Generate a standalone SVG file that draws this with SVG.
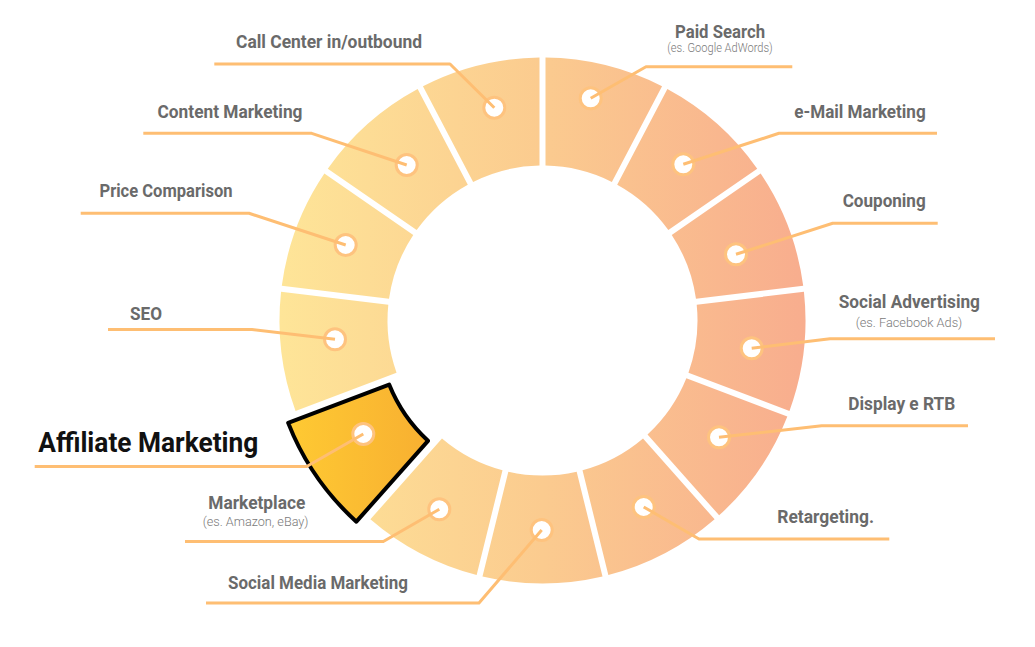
<svg xmlns="http://www.w3.org/2000/svg" width="1035" height="647" viewBox="0 0 1035 647">
<defs>
<linearGradient id="ringGrad" gradientUnits="userSpaceOnUse" x1="279" y1="0" x2="806" y2="0">
<stop offset="0" stop-color="#FEE598"/>
<stop offset="0.5" stop-color="#FBCB8F"/>
<stop offset="1" stop-color="#F8AD8E"/>
</linearGradient>
<linearGradient id="hiGrad" gradientUnits="userSpaceOnUse" x1="285" y1="0" x2="430" y2="0">
<stop offset="0" stop-color="#FFCC33"/>
<stop offset="1" stop-color="#F8B131"/>
</linearGradient>
<style>
.seg{fill:url(#ringGrad);}
.hi{fill:url(#hiGrad);stroke:#000;stroke-width:4;stroke-linejoin:round;}
.dot{fill:#fff;stroke:#FEC37F;stroke-width:3;}
.lbl{font-family:Roboto,"Liberation Sans",sans-serif;font-weight:700;font-size:17.5px;fill:#6A6A6A;}
.sub{font-family:Roboto,"Liberation Sans",sans-serif;font-weight:300;font-size:12.5px;fill:#7A7A7A;}
.big{font-family:Roboto,"Liberation Sans",sans-serif;font-weight:700;font-size:27px;fill:#111;}
.conn{fill:none;stroke:#FEBE73;stroke-width:3;stroke-linejoin:round;}
</style>
</defs>
<rect width="1035" height="647" fill="#fff"/>

<g id="paid-search">
<path class="seg" d="M545.50,57.52 A263,263 0 0 1 662.06,86.24 L611.86,181.89 A155,155 0 0 0 545.50,165.53 Z"/>
<circle class="dot" cx="590.7" cy="98.3" r="10.5"/>
<text class="lbl" x="675" y="37.7" textLength="90" lengthAdjust="spacingAndGlyphs">Paid Search</text>
<text class="sub" x="667.3" y="52" textLength="105.4" lengthAdjust="spacingAndGlyphs">(es. Google AdWords)</text>
</g>
<g id="email-marketing">
<path class="seg" d="M667.37,89.03 A263,263 0 0 1 757.23,168.64 L668.34,230.00 A155,155 0 0 0 617.17,184.67 Z"/>
<circle class="dot" cx="683.3" cy="164.3" r="10.5"/>
<text class="lbl" x="794.3" y="118.3" textLength="131.4" lengthAdjust="spacingAndGlyphs">e-Mail Marketing</text>
</g>
<g id="couponing">
<path class="seg" d="M760.64,173.58 A263,263 0 0 1 803.20,285.82 L695.98,298.84 A155,155 0 0 0 671.74,234.94 Z"/>
<circle class="dot" cx="736" cy="254.3" r="10.5"/>
<text class="lbl" x="842.7" y="207.3" textLength="83" lengthAdjust="spacingAndGlyphs">Couponing</text>
</g>
<g id="social-advertising">
<path class="seg" d="M803.93,291.78 A263,263 0 0 1 789.46,410.95 L688.46,372.65 A155,155 0 0 0 696.70,304.80 Z"/>
<circle class="dot" cx="751.7" cy="348.3" r="10.5"/>
<text class="lbl" x="838.7" y="308.3" textLength="141.3" lengthAdjust="spacingAndGlyphs">Social Advertising</text>
<text class="sub" x="855.7" y="327" textLength="106.6" lengthAdjust="spacingAndGlyphs">(es. Facebook Ads)</text>
</g>
<g id="display-rtb">
<path class="seg" d="M787.33,416.56 A263,263 0 0 1 719.14,515.35 L647.51,434.51 A155,155 0 0 0 686.34,378.26 Z"/>
<circle class="dot" cx="719" cy="437.3" r="10.5"/>
<text class="lbl" x="848.3" y="409.5" textLength="107" lengthAdjust="spacingAndGlyphs">Display e RTB</text>
</g>
<g id="retargeting">
<path class="seg" d="M714.64,519.34 A263,263 0 0 1 608.35,575.12 L582.50,470.25 A155,155 0 0 0 643.02,438.49 Z"/>
<circle class="dot" cx="643.7" cy="507" r="10.5"/>
<text class="lbl" x="777.3" y="522.7" textLength="96.7" lengthAdjust="spacingAndGlyphs">Retargeting.</text>
</g>
<g id="social-media-marketing">
<path class="seg" d="M602.52,576.56 A263,263 0 0 1 482.48,576.56 L508.33,471.69 A155,155 0 0 0 576.67,471.69 Z"/>
<circle class="dot" cx="541.7" cy="530" r="10.5"/>
<text class="lbl" x="228" y="589" textLength="180" lengthAdjust="spacingAndGlyphs">Social Media Marketing</text>
</g>
<g id="marketplace">
<path class="seg" d="M476.65,575.12 A263,263 0 0 1 370.36,519.34 L441.98,438.49 A155,155 0 0 0 502.50,470.25 Z"/>
<circle class="dot" cx="439.3" cy="509.3" r="10.5"/>
<text class="lbl" x="208.3" y="509" textLength="97" lengthAdjust="spacingAndGlyphs">Marketplace</text>
<text class="sub" x="202.7" y="526" textLength="105.8" lengthAdjust="spacingAndGlyphs">(es. Amazon, eBay)</text>
</g>
<g id="affiliate-marketing">
<path class="hi" transform="translate(-9.5,6.3)" d="M365.86,515.35 A263,263 0 0 1 297.67,416.56 L398.66,378.26 A155,155 0 0 0 437.49,434.51 Z"/>
<circle class="dot" cx="363.3" cy="434" r="10.5"/>
<text class="big" x="38.3" y="451.7" textLength="220" lengthAdjust="spacingAndGlyphs">Affiliate Marketing</text>
</g>
<g id="seo">
<path class="seg" d="M295.54,410.95 A263,263 0 0 1 281.07,291.78 L388.30,304.80 A155,155 0 0 0 396.54,372.65 Z"/>
<circle class="dot" cx="335" cy="339.3" r="10.5"/>
<text class="lbl" x="130" y="320" textLength="32" lengthAdjust="spacingAndGlyphs">SEO</text>
</g>
<g id="price-comparison">
<path class="seg" d="M281.80,285.82 A263,263 0 0 1 324.36,173.58 L413.26,234.94 A155,155 0 0 0 389.02,298.84 Z"/>
<circle class="dot" cx="345.7" cy="245" r="10.5"/>
<text class="lbl" x="99.5" y="197" textLength="133" lengthAdjust="spacingAndGlyphs">Price Comparison</text>
</g>
<g id="content-marketing">
<path class="seg" d="M327.77,168.64 A263,263 0 0 1 417.63,89.03 L467.83,184.67 A155,155 0 0 0 416.66,230.00 Z"/>
<circle class="dot" cx="406.7" cy="165" r="10.5"/>
<text class="lbl" x="157.5" y="118" textLength="145" lengthAdjust="spacingAndGlyphs">Content Marketing</text>
</g>
<g id="call-center">
<path class="seg" d="M422.94,86.24 A263,263 0 0 1 539.50,57.52 L539.50,165.53 A155,155 0 0 0 473.14,181.89 Z"/>
<circle class="dot" cx="494.3" cy="107.7" r="10.5"/>
<text class="lbl" x="236" y="48.3" textLength="186" lengthAdjust="spacingAndGlyphs">Call Center in/outbound</text>
</g>

<g id="connectors">
<polyline class="conn" points="590.7,98.3 646,66.7 792.3,66.7"/>
<polyline class="conn" points="683.3,164.3 779,133.3 937,133.3"/>
<polyline class="conn" points="736,254.3 832.7,223.3 937.7,223.3"/>
<polyline class="conn" points="751.7,348.3 830,338.7 995,338.7"/>
<polyline class="conn" points="719,437.3 821.7,425.7 968,425.7"/>
<polyline class="conn" points="643.7,507 699,539 889.3,539"/>
<polyline class="conn" points="541.7,530 479,603 206,603"/>
<polyline class="conn" points="439.3,509.3 383.3,541.5 185,541.5"/>
<polyline class="conn" points="363.3,434 306.7,466.5 34.7,466.5"/>
<polyline class="conn" points="335,339.3 252,329.5 108,329.5"/>
<polyline class="conn" points="345.7,245 249,213.3 80.7,213.3"/>
<polyline class="conn" points="406.7,165 311.7,133.3 143.3,133.3"/>
<polyline class="conn" points="494.3,107.7 450,64 214.3,64"/>
</g>
</svg>
